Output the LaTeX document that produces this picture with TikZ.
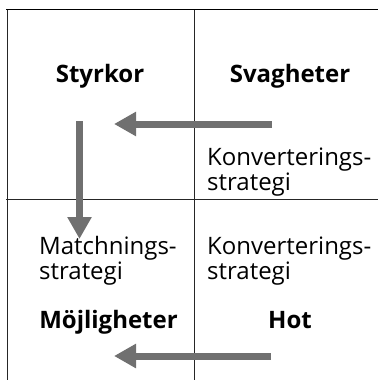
\documentclass[tikz,border=0pt]{standalone}
\usepackage{fontspec}
\setmainfont{Open Sans}
\usetikzlibrary{arrows.meta}
\definecolor{arrgray}{HTML}{707070}
\tikzset{
  frame/.style={line width=1pt, black!85},
  topline/.style={line width=1.6pt, black},
  bigarrow/.style={line width=7pt, arrgray, -{Triangle[length=22pt,width=23pt]}},
  title/.style={font=\fontsize{24}{22}\selectfont\bfseries, anchor=base, inner sep=0pt},
  body/.style={font=\fontsize{24}{22}\selectfont, anchor=base west, align=left, inner sep=0pt},
}
\begin{document}
\begin{tikzpicture}[x=1pt,y=-1pt]
\useasboundingbox (0,0) rectangle (378,380);
% frame
\coordinate (tl) at (6,9.5);
\coordinate (tr) at (378,9.5);
\coordinate (lt) at (7,9.5);
\coordinate (bl) at (7,380);
\coordinate (mt) at (194.5,9.5);
\coordinate (mb) at (194.5,380);
\coordinate (ml) at (6,199.5);
\coordinate (mr) at (378,199.5);
\draw[frame] (lt) -- (bl);
\draw[frame] (mt) -- (mb);
\draw[frame] (ml) -- (mr);
\draw[topline] (tl) -- (tr);
% titles
\node[title] (s) at (100,82) {Styrkor};
\node[title] (w) at (290,82) {Svagheter};
\node[title] (o) at (108.5,328) {Möjligheter};
\node[title] (t) at (290,328) {Hot};
% body texts (base = last line)
\node[body] (k1) at (207,190) {Konverterings-\\strategi};
\node[body] (m) at (39,279) {Matchnings-\\strategi};
\node[body] (k2) at (207,279) {Konverterings-\\strategi};
% arrows
\coordinate (a1s) at (272,124);
\coordinate (a1e) at (114,124);
\coordinate (a2s) at (79.5,121);
\coordinate (a2e) at (79.5,239);
\coordinate (a3s) at (271,356);
\coordinate (a3e) at (114,356);
\draw[bigarrow] (a1s) -- (a1e);
\draw[bigarrow] (a2s) -- (a2e);
\draw[bigarrow] (a3s) -- (a3e);
\end{tikzpicture}
\end{document}
